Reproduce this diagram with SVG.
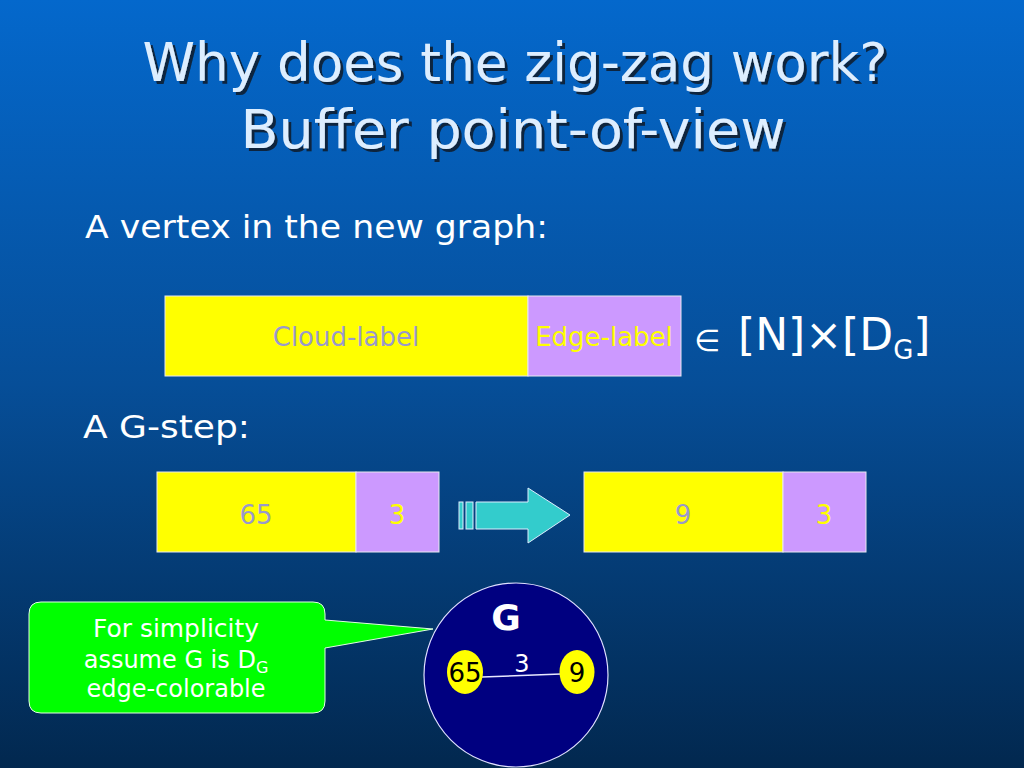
<svg xmlns="http://www.w3.org/2000/svg" width="1024" height="768" viewBox="0 0 1024 768">
<defs>
<linearGradient id="bg" x1="0" y1="0" x2="0" y2="1">
<stop offset="0" stop-color="#0468CC"/>
<stop offset="0.5" stop-color="#064E98"/>
<stop offset="1" stop-color="#02284F"/>
</linearGradient>
<filter id="shadow" x="-5%" y="-20%" width="110%" height="140%">
<feDropShadow dx="3" dy="3" stdDeviation="0.6" flood-color="#0A1A33" flood-opacity="0.9"/>
</filter>
<style>
.title{font-family:"DejaVu Sans","Liberation Sans",sans-serif;font-size:54px;fill:#DDEEFF;text-anchor:middle}
.body{font-family:"DejaVu Sans","Liberation Sans",sans-serif;font-size:32px;fill:#FFFFFF}
.lbl{font-family:"DejaVu Sans","Liberation Sans",sans-serif;font-size:26px;text-anchor:middle}
.yel{fill:#FFFF00;stroke:#E8E8F0;stroke-width:1}
.pur{fill:#CC99FF;stroke:#E8E8F0;stroke-width:1}
.grey{fill:#9999CC}
.ytxt{fill:#FFFF00}
.node{font-family:"DejaVu Sans","Liberation Sans",sans-serif;font-size:26px;text-anchor:middle}
</style>
</defs>
<rect x="0" y="0" width="1024" height="768" fill="url(#bg)"/>
<g id="title" filter="url(#shadow)">
<text class="title" x="515" y="81" textLength="745" lengthAdjust="spacingAndGlyphs">Why does the zig-zag work?</text>
<text class="title" x="513" y="148" textLength="545" lengthAdjust="spacingAndGlyphs">Buffer point-of-view</text>
</g>
<text class="body" x="85" y="238" textLength="463" lengthAdjust="spacingAndGlyphs">A vertex in the new graph:</text>
<g id="vertex">
<rect class="yel" x="165" y="296" width="363" height="80"/>
<rect class="pur" x="528" y="296" width="153" height="80"/>
<text class="lbl grey" x="346" y="346">Cloud-label</text>
<text class="lbl ytxt" x="604" y="346">Edge-label</text>
</g>
<g id="formula" font-family="DejaVu Sans, sans-serif" fill="#FFFFFF">
<text font-size="30" x="694" y="351">∈</text>
<text font-size="44" x="738" y="350">[N]×[D<tspan font-size="26" dy="9">G</tspan><tspan dy="-9">]</tspan></text>
</g>
<text class="body" x="83" y="438" textLength="167" lengthAdjust="spacingAndGlyphs">A G-step:</text>
<g id="step-before">
<rect class="yel" x="157" y="472" width="199" height="80"/>
<rect class="pur" x="356" y="472" width="83" height="80"/>
<text class="lbl grey" x="256" y="524">65</text>
<text class="lbl ytxt" x="397" y="524">3</text>
</g>
<g id="step-after">
<rect class="yel" x="584" y="472" width="199" height="80"/>
<rect class="pur" x="783" y="472" width="83" height="80"/>
<text class="lbl grey" x="683" y="524">9</text>
<text class="lbl ytxt" x="824" y="524">3</text>
</g>
<g id="callout">
<path d="M41 602 H313 Q325 602 325 614 V620 L433 629 L325 648 V701 Q325 713 313 713 H41 Q29 713 29 701 V614 Q29 602 41 602 Z" fill="#00FF00" stroke="#E0FFE0" stroke-width="1"/>
<g font-family="DejaVu Sans, sans-serif" font-size="24" fill="#FFFFFF" text-anchor="middle">
<text x="176" y="637" textLength="166" lengthAdjust="spacingAndGlyphs">For simplicity</text>
<text x="176" y="668">assume G is D<tspan font-size="16" dy="5">G</tspan></text>
<text x="176" y="697">edge-colorable</text>
</g>
</g>
<g id="graph-G">
<circle cx="516" cy="675" r="92" fill="#000080" stroke="#E0E0FF" stroke-width="1.2"/>
<text x="506" y="630" font-family="DejaVu Sans, sans-serif" font-size="36" font-weight="bold" fill="#FFFFFF" text-anchor="middle">G</text>
<text x="522" y="672" font-family="DejaVu Sans, sans-serif" font-size="24" fill="#FFFFFF" text-anchor="middle">3</text>
</g>
<g id="connectors">
<g id="step-arrow" fill="#33CCCC" stroke="#DDEEFF" stroke-width="1">
<rect x="459" y="502" width="4" height="27"/>
<rect x="466" y="502" width="7" height="27"/>
<path d="M476 502 H528 V488 L570 515 L528 543 V529 H476 Z"/>
</g>
<line id="edge-65-9" x1="482" y1="677" x2="561" y2="674" stroke="#E8E8FF" stroke-width="1.5"/>
</g>
<g id="node-65">
<ellipse cx="465" cy="672" rx="18" ry="22" fill="#FFFF00"/>
<text class="node" x="465" y="682" fill="#000000">65</text>
</g>
<g id="node-9">
<ellipse cx="577" cy="672" rx="17.5" ry="22" fill="#FFFF00"/>
<text class="node" x="577" y="682" fill="#000000">9</text>
</g>
</svg>
